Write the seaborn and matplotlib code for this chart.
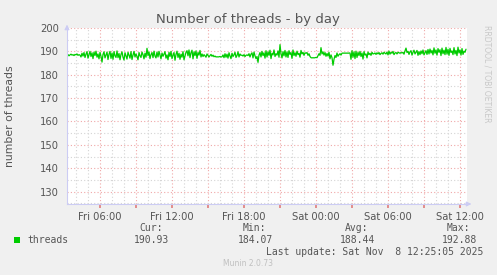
import matplotlib
matplotlib.use("Agg")
import matplotlib.pyplot as plt
import matplotlib.dates as mdates
from matplotlib.ticker import MultipleLocator, FuncFormatter
import seaborn as sns
import pandas as pd

# ---- data ----
start_time = "2025-11-07 03:15"
step = "5min"
threads = [
    188.3, 188.6, 188.1, 188.5, 188.8, 188.4, 188.6, 188.2, 188.7, 188.5,
    188.9, 188.3, 188.6, 188.4, 187.6, 189.2, 188.0, 189.5, 187.4, 188.8,
    189.9, 187.1, 188.6, 190.0, 187.8, 189.4, 186.9, 189.7, 188.2, 190.1,
    187.5, 188.9, 186.8, 189.6, 187.9, 185.4, 188.7, 189.8, 187.2, 188.5,
    189.7, 186.5, 188.8, 190.0, 187.0, 189.3, 186.6, 189.9, 188.1, 187.4,
    190.2, 187.3, 189.1, 186.4, 188.7, 189.8, 187.5, 186.3, 189.4, 188.0,
    186.7, 189.6, 188.3, 187.1, 189.9, 186.5, 188.4, 190.0, 187.6, 188.9,
    187.8, 186.4, 189.5, 188.1, 187.4, 189.7, 188.6, 186.8, 189.2, 187.5,
    191.3, 188.2, 189.8, 186.9, 188.6, 189.5, 187.3, 190.1, 188.0, 187.2,
    189.7, 187.6, 190.0, 188.4, 186.8, 189.3, 187.9, 188.8, 189.9, 187.1,
    188.5, 186.4, 189.6, 187.8, 190.0, 186.9, 188.3, 189.5, 186.2, 188.7,
    190.1, 187.4, 189.2, 186.6, 188.8, 187.5, 189.9, 186.4, 188.0, 189.6,
    190.3, 188.1, 190.6, 187.3, 189.4, 190.5, 186.8, 189.8, 188.2, 190.2,
    187.0, 189.5, 188.4, 190.4, 187.6, 188.9, 187.8, 188.6, 188.1, 187.5,
    188.9, 188.3, 187.6, 188.2, 188.7, 187.9, 188.4, 187.7, 188.0, 187.6,
    187.7, 187.6, 187.7, 187.8, 187.6, 187.7, 188.5, 187.3, 189.0, 187.5,
    188.8, 187.1, 189.4, 188.0, 186.9, 189.2, 187.8, 188.5, 189.6, 187.4,
    188.2, 189.8, 187.6, 188.9, 188.3, 188.4, 188.0, 188.6, 187.8, 188.3,
    188.5, 188.2, 189.0, 187.6, 188.8, 189.4, 187.2, 189.7, 188.1, 186.9,
    187.8, 185.3, 188.4, 189.5, 187.6, 190.0, 188.2, 189.4, 187.1, 190.3,
    187.6, 189.8, 188.3, 190.5, 186.9, 189.2, 188.5, 190.6, 187.8, 189.0,
    188.4, 190.2, 187.5, 192.88, 189.0, 187.2, 189.9, 188.1, 190.4, 187.6,
    189.8, 187.4, 190.3, 188.7, 189.5, 187.0, 190.6, 188.2, 189.4, 187.9,
    190.1, 188.6, 189.2, 187.5, 190.4, 188.9, 189.6, 188.3, 189.4, 189.2,
    189.5, 188.3, 189.0, 187.8, 187.3, 187.2, 187.3, 187.2, 187.3, 187.4,
    187.3, 188.1, 189.0, 188.3, 191.6, 188.9, 189.8, 188.4, 189.5, 187.9,
    189.1, 188.0, 189.6, 186.8, 188.5, 187.3, 184.07, 186.6, 188.2, 187.4,
    189.3, 187.9, 188.6, 189.0, 188.4, 189.2, 189.3, 189.2, 189.3, 189.2,
    189.3, 189.2, 189.3, 189.3, 186.6, 190.3, 187.5, 189.8, 186.9, 190.1,
    187.4, 189.6, 188.2, 190.0, 187.8, 189.3, 186.7, 189.9, 188.4, 188.9,
    187.2, 189.7, 188.6, 189.2, 188.3, 189.6, 188.9, 189.0, 189.3, 188.7,
    189.4, 188.9, 189.5, 188.6, 189.1, 189.4, 188.8, 189.6, 189.2, 188.9,
    189.7, 188.5, 190.1, 188.8, 189.6, 189.2, 190.0, 188.6, 189.3, 189.5,
    188.9, 189.6, 189.4, 189.2, 189.5, 189.3, 189.6, 188.8, 190.2, 191.4,
    189.5, 190.0, 188.7, 189.8, 190.3, 188.4, 189.6, 190.5, 188.9, 189.7,
    190.4, 188.3, 189.9, 188.6, 190.2, 189.0, 190.6, 188.5, 189.4, 190.3,
    188.7, 190.8, 188.9, 191.0, 189.3, 190.4, 188.5, 191.5, 189.2, 190.6,
    188.4, 191.2, 189.6, 190.7, 188.2, 191.4, 189.0, 190.5, 188.6, 191.7,
    188.8, 190.9, 188.3, 191.3, 189.5, 190.2, 188.6, 191.6, 188.9, 190.4,
    188.2, 191.8, 189.3, 190.6, 188.4, 191.2, 188.7, 190.1, 189.6, 190.93,
]
x_start = "2025-11-07 03:15"
x_end = "2025-11-08 12:35"
y_min, y_max = 124.7, 200.0
y_ticks = [130, 140, 150, 160, 170, 180, 190, 200]
stat_labels = ["Cur:", "Min:", "Avg:", "Max:"]
stat_values = ["190.93", "184.07", "188.44", "192.88"]
series_name = "threads"
title = "Number of threads - by day"
ylabel = "number of threads"
last_update = "Last update: Sat Nov  8 12:25:05 2025"
version = "Munin 2.0.73"
side_text = "RRDTOOL / TOBI OETIKER"

df = pd.DataFrame({
    "time": pd.date_range(start=start_time, periods=len(threads), freq=step),
    "threads": threads,
})

sns.set_theme(style="white")
plt.rcParams["font.family"] = ["DejaVu Sans"]

W, H = 497, 275
fig = plt.figure(figsize=(W / 100, H / 100), dpi=100, facecolor="#f0f0f0")
L, R, T, B = 67, 467, 28, 204
ax = fig.add_axes([L / W, 1 - B / H, (R - L) / W, (B - T) / H])
ax.set_facecolor("white")

sns.lineplot(data=df, x="time", y="threads", ax=ax, color="#00cc00",
             linewidth=0.9, legend=False)

ax.set_xlim(pd.Timestamp(x_start), pd.Timestamp(x_end))
ax.set_ylim(y_min, y_max)
ax.set_xlabel("")
ax.set_ylabel("")

# x axis: major every 3h (grid red), labels only every 6h; minor every hour
ax.xaxis.set_major_locator(mdates.HourLocator(byhour=range(0, 24, 3)))
ax.xaxis.set_minor_locator(mdates.HourLocator(interval=1))
def xfmt(v, pos):
    d = mdates.num2date(v)
    if d.hour % 6 == 0:
        return d.strftime("%a %H:%M")
    return ""
ax.xaxis.set_major_formatter(FuncFormatter(xfmt))

ax.set_yticks(y_ticks)
ax.yaxis.set_minor_locator(MultipleLocator(5))

grid_major = "#f0a8a8"
grid_minor = "#d4d4d4"
ax.grid(which="major", color=grid_major, linestyle=(0, (1, 2)), linewidth=0.8)
ax.grid(which="minor", color=grid_minor, linestyle=(0, (1, 2)), linewidth=0.8)
ax.set_axisbelow(True)

ax.tick_params(axis="x", which="major", length=3, color="#e08080", pad=3,
               labelsize=7.2, labelcolor="#555555", direction="out", bottom=True)
ax.tick_params(axis="x", which="minor", length=0)
ax.tick_params(axis="y", which="major", length=0, pad=6,
               labelsize=7.2, labelcolor="#555555")
ax.tick_params(axis="y", which="minor", length=0)

for s in ["top", "right"]:
    ax.spines[s].set_visible(False)
for s in ["left", "bottom"]:
    ax.spines[s].set_color("#ccccf4")
    ax.spines[s].set_linewidth(0.8)

# axis arrows
ax.annotate("", xy=(0, 1.035), xytext=(0, 0.98), xycoords="axes fraction",
            arrowprops=dict(arrowstyle="-|>", color="#ccccf4", lw=0.8,
                            mutation_scale=7), annotation_clip=False)
ax.annotate("", xy=(1.018, 0), xytext=(0.99, 0), xycoords="axes fraction",
            arrowprops=dict(arrowstyle="-|>", color="#ccccf4", lw=0.8,
                            mutation_scale=7), annotation_clip=False)

# title and labels
fig.text(248 / W, 1 - 19 / H, title, ha="center", va="center",
         fontsize=9.5, color="#555555")
fig.text(10 / W, 1 - 116 / H, ylabel, ha="center", va="center",
         rotation=90, fontsize=7.8, color="#555555")
fig.text(487 / W, 1 - 25 / H, side_text, ha="center", va="top",
         rotation=270, fontsize=5.5, color="#c8c8c8")

# legend / stats (monospace)
mono = dict(family="DejaVu Sans Mono", fontsize=7, color="#555555")
fig.patches.append(plt.Rectangle((14 / W, 1 - 243 / H), 6 / W, 6 / H,
                                 transform=fig.transFigure,
                                 facecolor="#00cc00", edgecolor="none"))
fig.text(27 / W, 1 - 240 / H, series_name, ha="left", va="center", **mono)
label_right = [163, 266, 368, 470]
value_right = [169, 273, 375, 477]
for lab, val, lx, vx in zip(stat_labels, stat_values, label_right, value_right):
    fig.text(lx / W, 1 - 228 / H, lab, ha="right", va="center", **mono)
    fig.text(vx / W, 1 - 240 / H, val, ha="right", va="center", **mono)
fig.text(483 / W, 1 - 252 / H, last_update, ha="right", va="center", **mono)
fig.text(248 / W, 1 - 264 / H, version, ha="center", va="center",
         fontsize=5.5, color="#c0c0c0")

fig.savefig("out.png", dpi=100, facecolor=fig.get_facecolor())
